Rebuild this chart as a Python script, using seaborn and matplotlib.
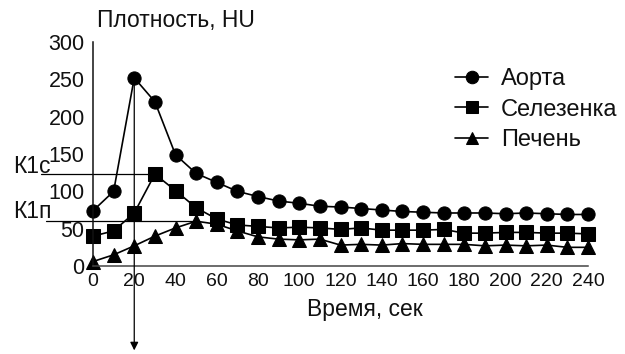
import matplotlib
matplotlib.use("Agg")
import matplotlib.pyplot as plt
import seaborn as sns
import pandas as pd

time_s = [0, 10, 20, 30, 40, 50, 60, 70, 80, 90, 100, 110, 120, 130, 140,
          150, 160, 170, 180, 190, 200, 210, 220, 230, 240]
aorta = [74, 100, 252, 220, 149, 124, 112, 100, 93, 87, 84, 80, 79, 77, 75,
         73, 72, 71, 71, 71, 70, 71, 70, 69, 69]
spleen = [40, 47, 71, 123, 101, 78, 63, 55, 53, 51, 52, 51, 49, 51, 48,
          48, 48, 49, 44, 44, 45, 45, 44, 44, 43]
liver = [6, 15, 27, 40, 51, 60, 56, 47, 39, 36, 35, 36, 28, 29, 28,
         30, 29, 29, 29, 27, 28, 27, 28, 25, 25]
series_names = ["Аорта", "Селезенка", "Печень"]
x_ticks = list(range(0, 241, 20))
y_ticks = [0, 50, 100, 150, 200, 250, 300]

df = pd.concat([
    pd.DataFrame({"t": time_s, "v": vals, "s": name})
    for name, vals in zip(series_names, [aorta, spleen, liver])
])

sns.set_theme(style="white")
plt.rcParams["font.family"] = ["Liberation Sans", "DejaVu Sans"]
plt.rcParams["font.size"] = 14

TXT = "#111111"
fig = plt.figure(figsize=(6.25, 3.54), dpi=100)
ax = fig.add_axes([93 / 625, 1 - 266 / 354, 495 / 625, 224 / 354])

sns.lineplot(data=df, x="t", y="v", hue="s", style="s",
             palette={n: "black" for n in series_names},
             markers={"Аорта": "o", "Селезенка": "s", "Печень": "^"},
             dashes=False, markersize=9.5, linewidth=1.2,
             markeredgecolor="black", ax=ax, clip_on=False)

ax.set_xlim(0, 240)
ax.set_ylim(0, 300)
ax.set_xticks(x_ticks)
ax.set_yticks(y_ticks)
ax.tick_params(axis="both", direction="in", length=5, width=1, colors="#222222",
               labelcolor=TXT)
ax.tick_params(axis="y", pad=6, labelsize=15.5)
ax.tick_params(axis="x", pad=5, labelsize=14)
for side in ["top", "right"]:
    ax.spines[side].set_visible(False)
ax.spines["left"].set_color("#111111")
ax.spines["bottom"].set_color("#444444")
ax.spines["left"].set_linewidth(1.1)
ax.spines["bottom"].set_linewidth(1.1)

ax.set_xlabel("Время, сек", fontsize=16.5, color=TXT)
ax.xaxis.set_label_coords((365 - 93) / 495, (266 - 298) / 224)
ax.set_ylabel("Плотность, HU", rotation=0, ha="left", va="center",
              fontsize=16.5, color=TXT)
ax.yaxis.set_label_coords((97 - 93) / 495, (266 - 21) / 224)

# annotation lines
k1c = max(spleen)
k1p = max(liver)
t_k1c = time_s[spleen.index(k1c)]
t_k1p = time_s[liver.index(k1p)]
ax.plot([-25, t_k1c], [k1c, k1c], color="black", lw=0.9, clip_on=False, zorder=1)
ax.plot([-23, t_k1p], [k1p, k1p], color="black", lw=0.9, clip_on=False, zorder=1)
ax.text(-38.5, 133, "К1с", fontsize=16.5, ha="left", va="center", color=TXT)
ax.text(-38.5, 73, "К1п", fontsize=16.5, ha="left", va="center", color=TXT)
t_peak = time_s[aorta.index(max(aorta))]
ax.annotate("", xy=(t_peak, -113), xytext=(t_peak, max(aorta)),
            arrowprops=dict(arrowstyle="-|>", color="black", lw=0.9,
                            mutation_scale=12, shrinkA=0, shrinkB=0),
            annotation_clip=False)

leg = ax.legend(title=None, frameon=False, loc="upper left",
                bbox_to_anchor=(455 / 625, 1 - 68 / 354),
                bbox_transform=fig.transFigure, fontsize=17,
                handlelength=1.4, handletextpad=0.55, labelspacing=0.36,
                borderpad=0, borderaxespad=0)
for h in leg.legend_handles:
    h.set_markersize(9)
for t in leg.get_texts():
    t.set_color(TXT)

fig.savefig("out.png", dpi=100)
